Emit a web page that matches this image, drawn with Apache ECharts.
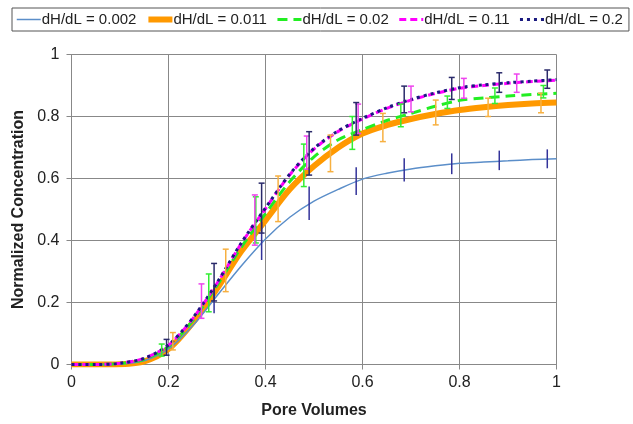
<!DOCTYPE html>
<html>
<head>
<meta charset="utf-8">
<script src="https://cdn.jsdelivr.net/npm/echarts@6/dist/echarts.min.js"></script>
<style>
html,body{margin:0;padding:0;background:#fff;}
#chart{width:633px;height:424px;}
</style>
</head>
<body>
<div id="chart"></div>
<script>
// Pore volumes (x) at which curves were read
const poreVolumes = [0, 0.05, 0.1, 0.15, 0.2, 0.25, 0.3, 0.35, 0.4, 0.45, 0.5, 0.55, 0.6, 0.65, 0.7, 0.75, 0.8, 0.85, 0.9, 0.95, 1.0];

const seriesNames = ['dH/dL = 0.002', 'dH/dL = 0.011', 'dH/dL = 0.02', 'dH/dL = 0.11', 'dH/dL = 0.2'];

const c002 = [0, 0, 0.002, 0.012, 0.05, 0.125, 0.222, 0.318, 0.405, 0.475, 0.527, 0.565, 0.598, 0.617, 0.631, 0.641, 0.649, 0.653, 0.657, 0.661, 0.664];
const c011 = [0, 0, 0.001, 0.01, 0.05, 0.135, 0.245, 0.365, 0.465, 0.565, 0.64, 0.70, 0.745, 0.772, 0.792, 0.808, 0.821, 0.83, 0.837, 0.842, 0.845];
const c02  = [0, 0, 0.003, 0.017, 0.058, 0.142, 0.255, 0.378, 0.487, 0.59, 0.67, 0.725, 0.758, 0.787, 0.81, 0.833, 0.852, 0.86, 0.866, 0.871, 0.875];
const c11  = [0, 0, 0.004, 0.02, 0.062, 0.148, 0.262, 0.39, 0.503, 0.612, 0.695, 0.752, 0.792, 0.826, 0.853, 0.874, 0.891, 0.9, 0.907, 0.913, 0.917];
const c2   = [0, 0, 0.004, 0.02, 0.063, 0.15, 0.264, 0.392, 0.505, 0.614, 0.697, 0.754, 0.794, 0.828, 0.855, 0.876, 0.893, 0.902, 0.909, 0.914, 0.919];

// Error bars: [x, low, high]
const err002 = [[0.294, 0.165, 0.256], [0.392, 0.337, 0.46], [0.49, 0.466, 0.574], [0.587, 0.547, 0.636], [0.686, 0.59, 0.665], [0.784, 0.614, 0.681], [0.882, 0.627, 0.69], [0.981, 0.633, 0.694]];
const err011 = [[0.209, 0.047, 0.103], [0.318, 0.235, 0.372], [0.426, 0.461, 0.608], [0.534, 0.622, 0.74], [0.642, 0.719, 0.81], [0.751, 0.773, 0.853], [0.859, 0.80, 0.859], [0.968, 0.812, 0.875]];
const err02  = [[0.186, 0.027, 0.066], [0.283, 0.17, 0.292], [0.38, 0.392, 0.541], [0.479, 0.574, 0.711], [0.579, 0.694, 0.80], [0.679, 0.767, 0.84], [0.775, 0.826, 0.866], [0.873, 0.842, 0.892], [0.973, 0.86, 0.90]];
const err11  = [[0.268, 0.149, 0.26], [0.378, 0.385, 0.547], [0.485, 0.63, 0.737], [0.591, 0.745, 0.84], [0.70, 0.815, 0.898], [0.809, 0.859, 0.923], [0.918, 0.878, 0.937]];
const err2   = [[0.196, 0.03, 0.081], [0.294, 0.205, 0.326], [0.392, 0.424, 0.585], [0.49, 0.611, 0.751], [0.587, 0.74, 0.845], [0.686, 0.812, 0.898], [0.784, 0.855, 0.926], [0.882, 0.878, 0.941], [0.981, 0.891, 0.95]];

const xTicks = [0, 0.2, 0.4, 0.6, 0.8, 1];

const pair = arr => poreVolumes.map((x, i) => [x, arr[i]]);

function errSeries(data, color, caps) {
  return {
    type: 'custom',
    data: data,
    encode: { x: 0, y: [1, 2] },
    z: 5,
    silent: true,
    renderItem: function (params, api) {
      const x = api.value(0), lo = api.value(1), hi = api.value(2);
      const p1 = api.coord([x, lo]), p2 = api.coord([x, hi]);
      const st = { stroke: color, lineWidth: 1.5 };
      const ch = [{ type: 'line', shape: { x1: p1[0], y1: p1[1], x2: p2[0], y2: p2[1] }, style: st }];
      if (caps) {
        ch.push({ type: 'line', shape: { x1: p1[0] - 3, y1: p1[1], x2: p1[0] + 3, y2: p1[1] }, style: st });
        ch.push({ type: 'line', shape: { x1: p2[0] - 3, y1: p2[1], x2: p2[0] + 3, y2: p2[1] }, style: st });
      }
      return { type: 'group', children: ch };
    }
  };
}

const chart = echarts.init(document.getElementById('chart'), null, { renderer: 'canvas' });
const FONT = 'Liberation Sans, Arial, sans-serif';
chart.setOption({
  animation: false,
  backgroundColor: '#fff',
  textStyle: { fontFamily: FONT },
  legend: {
    data: seriesNames,
    left: 12, top: 8,
    padding: [4, 6, 4, 4],
    itemGap: 9,
    itemWidth: 24, itemHeight: 10,
    itemStyle: { opacity: 0 },
    lineStyle: { width: 'inherit' },
    borderColor: '#555', borderWidth: 1,
    textStyle: { fontSize: 15, color: '#222', fontFamily: FONT, padding: [0, 0, 0, -4] }
  },
  grid: { left: 71.5, right: 76.5, top: 54.5, bottom: 59.5 },
  xAxis: {
    type: 'value', min: 0, max: 1, interval: 0.2,
    name: 'Pore Volumes', nameLocation: 'middle', nameGap: 38,
    nameTextStyle: { fontSize: 16, fontWeight: 'bold', color: '#222', verticalAlign: 'top' },
    axisLine: { show: true, lineStyle: { color: '#888', width: 1 } },
    axisTick: { show: true, length: 5, lineStyle: { color: '#888' } },
    axisLabel: { fontSize: 16, color: '#222', margin: 10, formatter: v => xTicks.includes(+v.toFixed(1)) ? String(+v.toFixed(1)) : '' },
    splitLine: { show: true, lineStyle: { color: '#888', width: 1 } }
  },
  yAxis: {
    type: 'value', min: 0, max: 1, interval: 0.2,
    name: 'Normalized Concentration', nameLocation: 'middle', nameGap: 45,
    nameTextStyle: { fontSize: 16, fontWeight: 'bold', color: '#222' },
    axisLine: { show: true, lineStyle: { color: '#888', width: 1 } },
    axisTick: { show: true, length: 5, lineStyle: { color: '#888' } },
    axisLabel: { fontSize: 16, color: '#222', margin: 12, formatter: v => String(+v.toFixed(1)) },
    splitLine: { show: true, lineStyle: { color: '#888', width: 1 } }
  },
  series: [
    { name: seriesNames[1], type: 'line', data: pair(c011), smooth: 0.3, symbol: 'none', z: 2,
      lineStyle: { color: '#ff9900', width: 6 }, itemStyle: { color: '#ff9900' } },
    { name: seriesNames[0], type: 'line', data: pair(c002), smooth: 0.3, symbol: 'none', z: 3,
      lineStyle: { color: '#5b8ec9', width: 1.5 }, itemStyle: { color: '#5b8ec9' } },
    { name: seriesNames[2], type: 'line', data: pair(c02), smooth: 0.3, symbol: 'none', z: 3,
      lineStyle: { color: '#22ee22', width: 3, type: [10, 6] }, itemStyle: { color: '#22ee22' } },
    { name: seriesNames[3], type: 'line', data: pair(c11), smooth: 0.3, symbol: 'none', z: 3,
      lineStyle: { color: '#ff00ff', width: 3, type: [7, 4] }, itemStyle: { color: '#ff00ff' } },
    { name: seriesNames[4], type: 'line', data: pair(c2), smooth: 0.3, symbol: 'none', z: 4,
      lineStyle: { color: '#1a1a80', width: 3, type: [3, 4] }, itemStyle: { color: '#1a1a80' } },
    errSeries(err011, '#f7b040', true),
    errSeries(err02, '#33ee33', true),
    errSeries(err11, '#ee44ee', true),
    errSeries(err002, '#33339a', false),
    errSeries(err2, '#2a2a6a', true)
  ]
});
</script>
</body>
</html>
